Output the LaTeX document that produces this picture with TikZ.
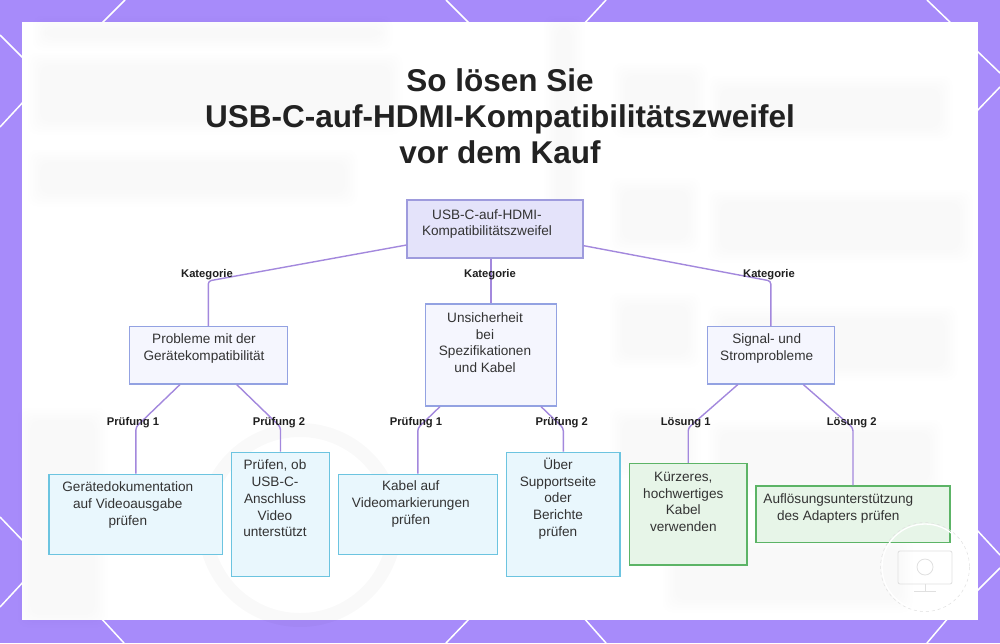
\documentclass[tikz,border=0pt]{standalone}
\usepackage{fontspec}
\setmainfont{Liberation Sans}
\usetikzlibrary{calc}
\definecolor{bgpurple}{HTML}{A78BFA}
\definecolor{edgec}{HTML}{A388DD}
\definecolor{rootf}{HTML}{E4E3FA}
\definecolor{rootb}{HTML}{9E9BDD}
\definecolor{catf}{HTML}{F5F6FE}
\definecolor{catb}{HTML}{93A2E2}
\definecolor{bluef}{HTML}{E9F7FD}
\definecolor{blueb}{HTML}{6CC4E0}
\definecolor{greenf}{HTML}{E7F5E8}
\definecolor{greenb}{HTML}{5CB466}
\definecolor{txtc}{HTML}{333333}
\definecolor{ttlc}{HTML}{222222}
\newcommand{\blurblob}[5]{%
  \foreach \k in {0,...,5}{%
    \fill[black,opacity=#5,rounded corners=10pt] ({#1-2.5*\k},{#2-2.5*\k}) rectangle ({#3+2.5*\k},{#4+2.5*\k});
  }}
\tikzset{
  edge/.style={draw=edgec, line width=1.4pt, rounded corners=3pt},
  rootbox/.style={draw=rootb, fill=rootf, line width=1.2pt, inner sep=0pt},
  catbox/.style={draw=catb, fill=catf, line width=1.2pt, inner sep=0pt},
  bluebox/.style={draw=blueb, fill=bluef, line width=1.2pt, inner sep=0pt},
  greenbox/.style={draw=greenb, fill=greenf, line width=1.2pt, inner sep=0pt},
  txt/.style={text=txtc, font=\fontsize{13.6}{16.7}\selectfont, align=center, inner sep=0pt},
  lbl/.style={text=black!88, font=\bfseries\fontsize{11.2}{13}\selectfont, inner sep=0pt},
  ttl/.style={text=ttlc, font=\bfseries\fontsize{31.5}{36}\selectfont, align=center, inner sep=0pt},
  bgline/.style={draw=white, line width=1.5pt}
}
\begin{document}
\begin{tikzpicture}[x=1pt,y=-1pt]
\useasboundingbox (0,0) rectangle (1000,643);
% background
\fill[bgpurple] (0,0) rectangle (1000,643);
\draw[bgline] (125,0) -- (100,25);
\draw[bgline] (446,0) -- (471,25);
\draw[bgline] (606,0) -- (583,25);
\draw[bgline] (927,0) -- (953,25);
\draw[bgline] (0,35) -- (25,60);
\draw[bgline] (25,100) -- (0,127);
\draw[bgline] (0,517) -- (25,543);
\draw[bgline] (25,580) -- (0,607);
\draw[bgline] (975,49) -- (1000,73);
\draw[bgline] (975,113) -- (1000,87);
\draw[bgline] (975,528) -- (1000,555);
\draw[bgline] (975,593) -- (1000,568);
\draw[bgline] (100,617) -- (124,643);
\draw[bgline] (471,617) -- (446,643);
\draw[bgline] (583,617) -- (606,643);
\draw[bgline] (949,617) -- (927,643);
\fill[white] (22,22) rectangle (978,620);
% faint blurred background content
\blurblob{45}{28}{380}{38}{0.003}
\blurblob{40}{65}{390}{122}{0.005}
\blurblob{40}{162}{345}{194}{0.004}
\blurblob{556}{28}{572}{215}{0.004}
\blurblob{625}{75}{695}{125}{0.0035}
\blurblob{720}{88}{940}{128}{0.004}
\blurblob{622}{190}{688}{240}{0.0035}
\blurblob{720}{202}{960}{250}{0.004}
\blurblob{622}{305}{688}{355}{0.0035}
\blurblob{720}{318}{945}{368}{0.004}
\blurblob{622}{420}{688}{465}{0.003}
\blurblob{720}{432}{930}{482}{0.0035}
\blurblob{675}{548}{900}{600}{0.0035}
\blurblob{30}{420}{95}{615}{0.003}
\draw[black,opacity=0.025,line width=14pt] (300,525) circle[radius=95];
% title
\node[ttl] (title) at (500,116) {So lösen Sie\\USB-C-auf-HDMI-Kompatibilitätszweifel\\vor dem Kauf};
% boxes
\node[rootbox, minimum width=176pt, minimum height=58pt] (root) at (495,229) {};
\node[catbox, minimum width=158pt, minimum height=57.3pt] (c1) at (208.3,355.3) {};
\node[catbox, minimum width=130.6pt, minimum height=102pt] (c2) at (491,355) {};
\node[catbox, minimum width=127pt, minimum height=57.3pt] (c3) at (770.8,355.3) {};
\node[bluebox, minimum width=173.7pt, minimum height=80pt] (l1) at (135.9,514.3) {};
\node[bluebox, minimum width=97.6pt, minimum height=124.4pt] (l2) at (280.5,514.5) {};
\node[bluebox, minimum width=159pt, minimum height=80pt] (l3) at (417.8,514.3) {};
\node[bluebox, minimum width=113.3pt, minimum height=124.4pt] (l4) at (563.3,514.5) {};
\node[greenbox, minimum width=117.7pt, minimum height=101.7pt] (l5) at (688.2,514.2) {};
\node[greenbox, minimum width=194pt, minimum height=56.7pt] (l6) at (853,514.3) {};
% box texts
\node[txt] (roott) at (487,224) {USB-C-auf-HDMI-\\Kompatibilitätszweifel};
\node[txt] (c1t) at (204,348.5) {Probleme mit der\\Gerätekompatibilität};
\node[txt] (c2t) at (485,342.5) {Unsicherheit\\bei\\Spezifikationen\\und Kabel};
\node[txt] (c3t) at (766.7,348.5) {Signal- und\\Stromprobleme};
\node[txt] (l1t) at (127.8,505) {Gerätedokumentation\\auf Videoausgabe\\prüfen};
\node[txt] (l2t) at (275,498.5) {Prüfen, ob\\USB-C-\\Anschluss\\Video\\unterstützt};
\node[txt] (l3t) at (410.8,504) {Kabel auf\\Videomarkierungen\\prüfen};
\node[txt] (l4t) at (558,498.5) {Über\\Supportseite\\oder\\Berichte\\prüfen};
\node[txt] (l5t) at (683.3,502) {Kürzeres,\\hochwertiges\\Kabel\\verwenden};
\node[txt] (l6t) at (838.3,508.5) {Auflösungsunterstützung\\des Adapters prüfen};
% connectors
\coordinate (k1) at (208.3,281);
\coordinate (k3) at (770.8,281);
\draw[edge] (root) -- (k1) -- (c1.north);
\draw[edge] (root.south -| c2.north) -- (c2.north);
\draw[edge] (root) -- (k3) -- (c3.north);
\coordinate (p11) at (135.9,427);
\coordinate (p12) at (280.5,427);
\coordinate (p21) at (417.8,428);
\coordinate (p22) at (563.3,428);
\coordinate (p31) at (688.2,428);
\coordinate (p32) at (853,428);
\draw[edge] ($(c1.south)+(-28.3,0)$) -- (p11) -- (l1.north);
\draw[edge] ($(c1.south)+(28.4,0)$) -- (p12) -- (l2.north);
\draw[edge] ($(c2.south)+(-51,0)$) -- (p21) -- (l3.north);
\draw[edge] ($(c2.south)+(50,0)$) -- (p22) -- (l4.north);
\draw[edge] ($(c3.south)+(-33,0)$) -- (p31) -- (l5.north);
\draw[edge] ($(c3.south)+(32.5,0)$) -- (p32) -- (l6.north);
% edge labels
\node[lbl] (lk1) at (207,275) {Kategorie};
\node[lbl] (lk2) at (490,275) {Kategorie};
\node[lbl] (lk3) at (769,275) {Kategorie};
\node[lbl] (lp11) at (133,423) {Prüfung 1};
\node[lbl] (lp12) at (279,423) {Prüfung 2};
\node[lbl] (lp21) at (416,423) {Prüfung 1};
\node[lbl] (lp22) at (561.7,423) {Prüfung 2};
\node[lbl] (ll31) at (685.7,423) {Lösung 1};
\node[lbl] (ll32) at (851.7,423) {Lösung 2};
% faint watermark icon
\draw[white, line width=1.3pt] (925,567) circle[radius=43];
\draw[black!12, line width=0.5pt, dashed] (925,567) circle[radius=44.5];
\draw[black!12, line width=0.8pt, rounded corners=2pt] (898,551) rectangle (952,584);
\draw[black!12, line width=0.8pt] (925,584) -- (925,591) (914,591) -- (936,591);
\draw[black!12, line width=0.8pt] (925,567) circle[radius=8];
\end{tikzpicture}
\end{document}
